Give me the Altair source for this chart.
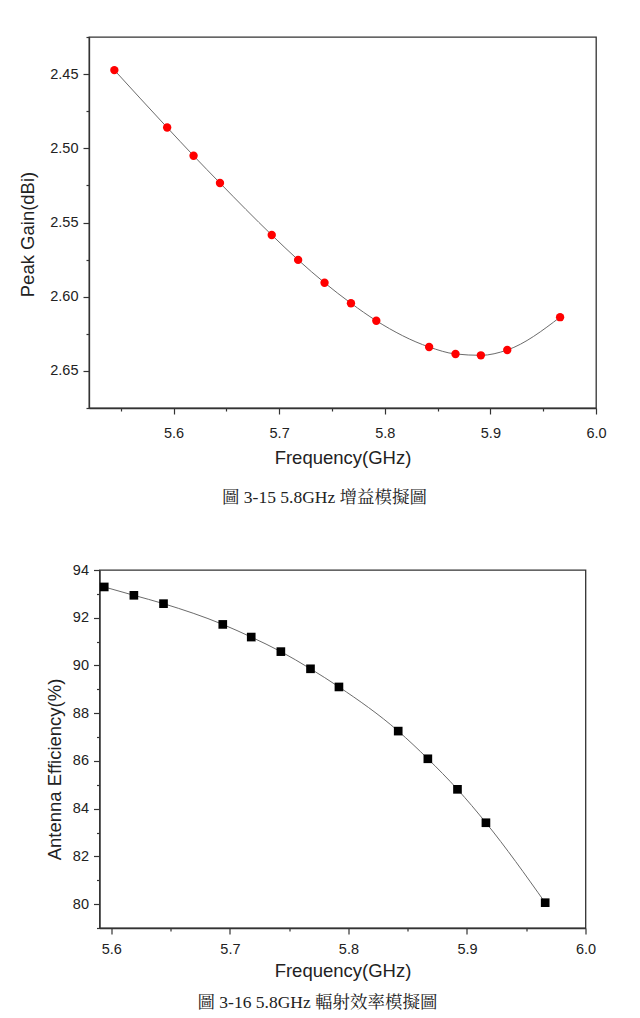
import altair as alt
import pandas as pd

# ---- data ----
freq_gain = [5.544, 5.594, 5.619, 5.644, 5.693, 5.718, 5.743, 5.768, 5.792, 5.842, 5.867, 5.891, 5.916, 5.966]
gain = [2.4473, 2.4860, 2.5050, 2.5234, 2.5584, 2.5752, 2.5906, 2.6044, 2.6162, 2.6339, 2.6386, 2.6395, 2.6359, 2.6138]

freq_eff = [5.594, 5.619, 5.644, 5.694, 5.718, 5.743, 5.768, 5.792, 5.842, 5.867, 5.892, 5.916, 5.966]
eff = [93.29, 92.94, 92.59, 91.72, 91.19, 90.58, 89.86, 89.10, 87.25, 86.09, 84.81, 83.41, 80.06]

gain_y_ticks = [2.425, 2.45, 2.475, 2.50, 2.525, 2.55, 2.575, 2.60, 2.625, 2.65, 2.675]
gain_x_ticks = [5.55, 5.6, 5.65, 5.7, 5.75, 5.8, 5.85, 5.9, 5.95, 6.0]
eff_y_ticks = [79, 80, 81, 82, 83, 84, 85, 86, 87, 88, 89, 90, 91, 92, 93, 94]
eff_x_ticks = [5.6, 5.65, 5.7, 5.75, 5.8, 5.85, 5.9, 5.95, 6.0]

caption1 = "圖 3-15 5.8GHz 增益模擬圖"
caption2 = "圖 3-16 5.8GHz 輻射效率模擬圖"

df_gain = pd.DataFrame({"freq": freq_gain, "gain": gain})
df_eff = pd.DataFrame({"freq": freq_eff, "eff": eff})

SANS = "Liberation Sans"
SERIF = "Liberation Serif, Noto Serif CJK TC, Noto Sans CJK TC"
AXC = "#333333"
TXT = "#222222"


def major_test(mult):
    return f"abs(datum.value*{mult} - round(datum.value*{mult})) < 0.001"


def tick_size(mult):
    return {"condition": {"test": major_test(mult), "value": 6}, "value": 3}


# ---------------- chart 1: Peak gain ----------------
x1 = alt.X(
    "freq:Q",
    scale=alt.Scale(domain=[5.52, 6.0], nice=False, zero=False),
    axis=alt.Axis(
        title="Frequency(GHz)", values=gain_x_ticks,
        labelExpr=f"{major_test(10)} ? format(datum.value, '.1f') : ''",
        tickSize=tick_size(10), labelPadding=12, titlePadding=9,
        labelFlush=False, labelOverlap=False,
    ),
)
y1 = alt.Y(
    "gain:Q",
    scale=alt.Scale(domain=[2.425, 2.675], reverse=True, nice=False, zero=False),
    axis=alt.Axis(
        title="Peak Gain(dBi)", values=gain_y_ticks,
        labelExpr=f"{major_test(20)} ? format(datum.value, '.2f') : ''",
        tickSize=tick_size(20), labelPadding=5, titlePadding=12, titleY=197,
        labelOverlap=False,
    ),
)
base1 = alt.Chart(df_gain)
line1 = base1.mark_line(color="#6b6b6b", strokeWidth=1, interpolate="monotone").encode(x=x1, y=y1)
pts1 = base1.mark_point(shape="circle", filled=True, color="#ff0000", opacity=1, size=70).encode(x=x1, y=y1)
chart1 = alt.layer(line1, pts1).properties(
    width=507, height=371,
    title=alt.TitleParams(
        text=caption1, orient="bottom", anchor="middle", font=SERIF,
        fontSize=17.5, fontWeight="normal", color=TXT, offset=22, dx=-18,
    ),
)

# ---------------- chart 2: Antenna efficiency ----------------
x2 = alt.X(
    "freq:Q",
    scale=alt.Scale(domain=[5.59, 6.0], nice=False, zero=False),
    axis=alt.Axis(
        title="Frequency(GHz)", values=eff_x_ticks,
        labelExpr=f"{major_test(10)} ? format(datum.value, '.1f') : ''",
        tickSize=tick_size(10), labelPadding=8, titlePadding=6,
        labelFlush=False, labelOverlap=False,
    ),
)
y2 = alt.Y(
    "eff:Q",
    scale=alt.Scale(domain=[79, 94], nice=False, zero=False),
    axis=alt.Axis(
        title="Antenna Efficiency(%)", values=eff_y_ticks,
        labelExpr=f"{major_test(0.5)} ? format(datum.value, 'd') : ''",
        tickSize=tick_size(0.5), labelPadding=5, titlePadding=8, titleY=199,
        labelOverlap=False,
    ),
)
base2 = alt.Chart(df_eff)
line2 = base2.mark_line(color="#6b6b6b", strokeWidth=1, interpolate="monotone").encode(x=x2, y=y2)
pts2 = base2.mark_point(shape="square", filled=True, color="#000000", opacity=1, size=75).encode(x=x2, y=y2)
chart2 = alt.layer(line2, pts2).properties(
    width=486, height=358,
    title=alt.TitleParams(
        text=caption2, orient="bottom", anchor="middle", font=SERIF,
        fontSize=17.5, fontWeight="normal", color=TXT, offset=14, dx=-25,
    ),
)

chart = (
    alt.vconcat(chart1, chart2, spacing=162, bounds="flush", center=True)
    .properties(padding={"left": 18, "top": 28, "right": 5, "bottom": 2}, background="white")
    .configure_view(stroke=AXC, strokeWidth=1.3)
    .configure_axis(
        labelFont=SANS, labelFontSize=14.5, labelColor=TXT,
        titleFont=SANS, titleFontSize=18.5, titleFontWeight="normal", titleColor=TXT,
        domainColor=AXC, domainWidth=1.3, tickColor=AXC, tickWidth=1.2, grid=False,
    )
)

chart.save("out.html", embed_options={"renderer": "svg", "actions": False})
